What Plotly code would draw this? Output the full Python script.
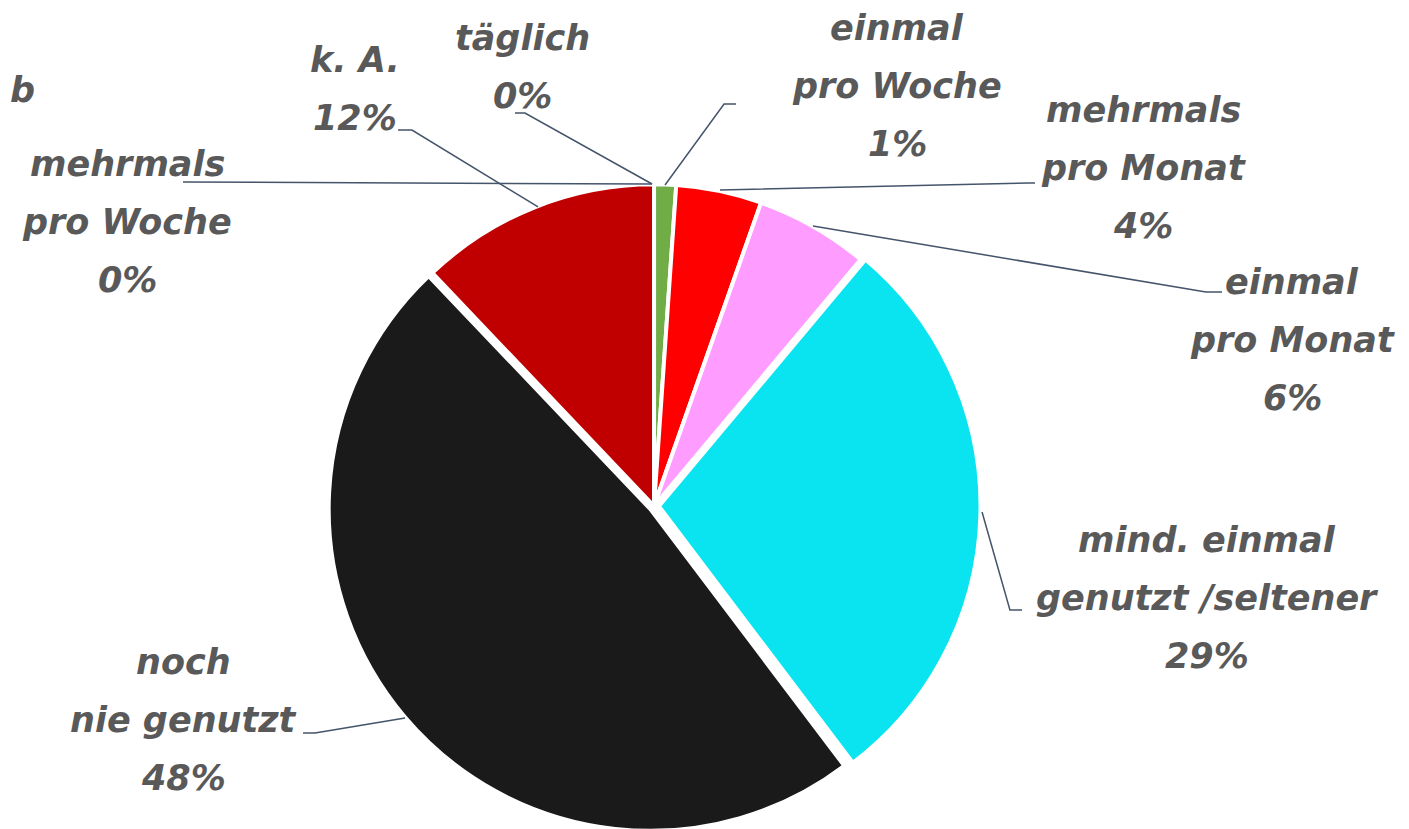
import plotly.graph_objects as go

W, H = 1409, 829
OFF = 8  # page body margin of the browser

# slice data, clockwise from 12 o'clock
labels = ["täglich", "einmal pro Woche", "mehrmals pro Monat", "einmal pro Monat",
          "mind. einmal genutzt /seltener", "noch nie genutzt", "k. A.", "mehrmals pro Woche"]
values = [0.0, 1.1, 4.3, 5.7, 28.6, 48.2, 12.1, 0.0]
colors = ["#4472c4", "#70ad47", "#ff0000", "#ff9cff", "#0ae4f0", "#1a1a1a", "#c00000", "#ffc000"]
pulls = [0, 0, 0, 0, 0.015, 0.015, 0, 0]

# label lines (text) and their placement in pixels: (center x, first line y)
label_lines = {
    "täglich": ["täglich"],
    "einmal pro Woche": ["einmal", "pro Woche"],
    "mehrmals pro Monat": ["mehrmals", "pro Monat"],
    "einmal pro Monat": ["einmal", "pro Monat"],
    "mind. einmal genutzt /seltener": ["mind. einmal", "genutzt /seltener"],
    "noch nie genutzt": ["noch", "nie genutzt"],
    "k. A.": ["k. A."],
    "mehrmals pro Woche": ["mehrmals", "pro Woche"],
}
label_pos = {
    "täglich": (522, 38),
    "einmal pro Woche": (897, 28),
    "mehrmals pro Monat": (1143, 110),
    "einmal pro Monat": (1292, 282),
    "mind. einmal genutzt /seltener": (1207, 540),
    "noch nie genutzt": (183, 662),
    "k. A.": (355, 60),
    "mehrmals pro Woche": (127, 164),
}
leaders = {
    "täglich": [(515, 113), (525, 113), (652, 184)],
    "einmal pro Woche": [(736, 104), (724, 104), (665, 185)],
    "mehrmals pro Monat": [(1035, 183), (1028, 183), (720, 190)],
    "einmal pro Monat": [(1222, 292), (1206, 292), (813, 226)],
    "mind. einmal genutzt /seltener": [(1022, 610), (1010, 610), (982, 512)],
    "noch nie genutzt": [(303, 733), (315, 733), (405, 718)],
    "k. A.": [(398, 130), (412, 130), (538, 207)],
    "mehrmals pro Woche": [(183, 182), (652, 184)],
}
line_gap = 58


def px(x, y):
    return (x - OFF) / W, 1 - (y - OFF) / H


fig = go.Figure(go.Pie(
    labels=labels, values=values, sort=False, direction="clockwise", rotation=0,
    marker=dict(colors=colors, line=dict(color="white", width=4)),
    pull=pulls, textinfo="none", hoverinfo="label+percent", showlegend=False,
    domain=dict(x=[0.1585, 0.7585], y=[0.0054, 0.7931]),
))

font = dict(family="DejaVu Sans", size=35, color="#595959", weight="bold", style="italic")
total = sum(values)
annotations = []
for lab, val in zip(labels, values):
    cx, y0 = label_pos[lab]
    lines = label_lines[lab] + [f"{round(val / total * 100)}%"]
    for i, t in enumerate(lines):
        x, y = px(cx, y0 + i * line_gap)
        annotations.append(dict(x=x, y=y, xref="paper", yref="paper", text=t, showarrow=False,
                                font=font, xanchor="center", yanchor="middle"))
# fragment of a label at the left edge
x, y = px(22, 90)
annotations.append(dict(x=x, y=y, xref="paper", yref="paper", text="b",
                        showarrow=False, font=font, xanchor="center", yanchor="middle"))

shapes = []
for lab, pts in leaders.items():
    path = "M " + " L ".join("{:.4f},{:.4f}".format(*px(x, y)) for x, y in pts)
    shapes.append(dict(type="path", path=path, xref="paper", yref="paper",
                       line=dict(color="#44546a", width=1.5)))

fig.update_layout(width=W, height=H, margin=dict(l=0, r=0, t=0, b=0),
                  paper_bgcolor="white", plot_bgcolor="white",
                  annotations=annotations, shapes=shapes)

fig.write_html("out.html")
